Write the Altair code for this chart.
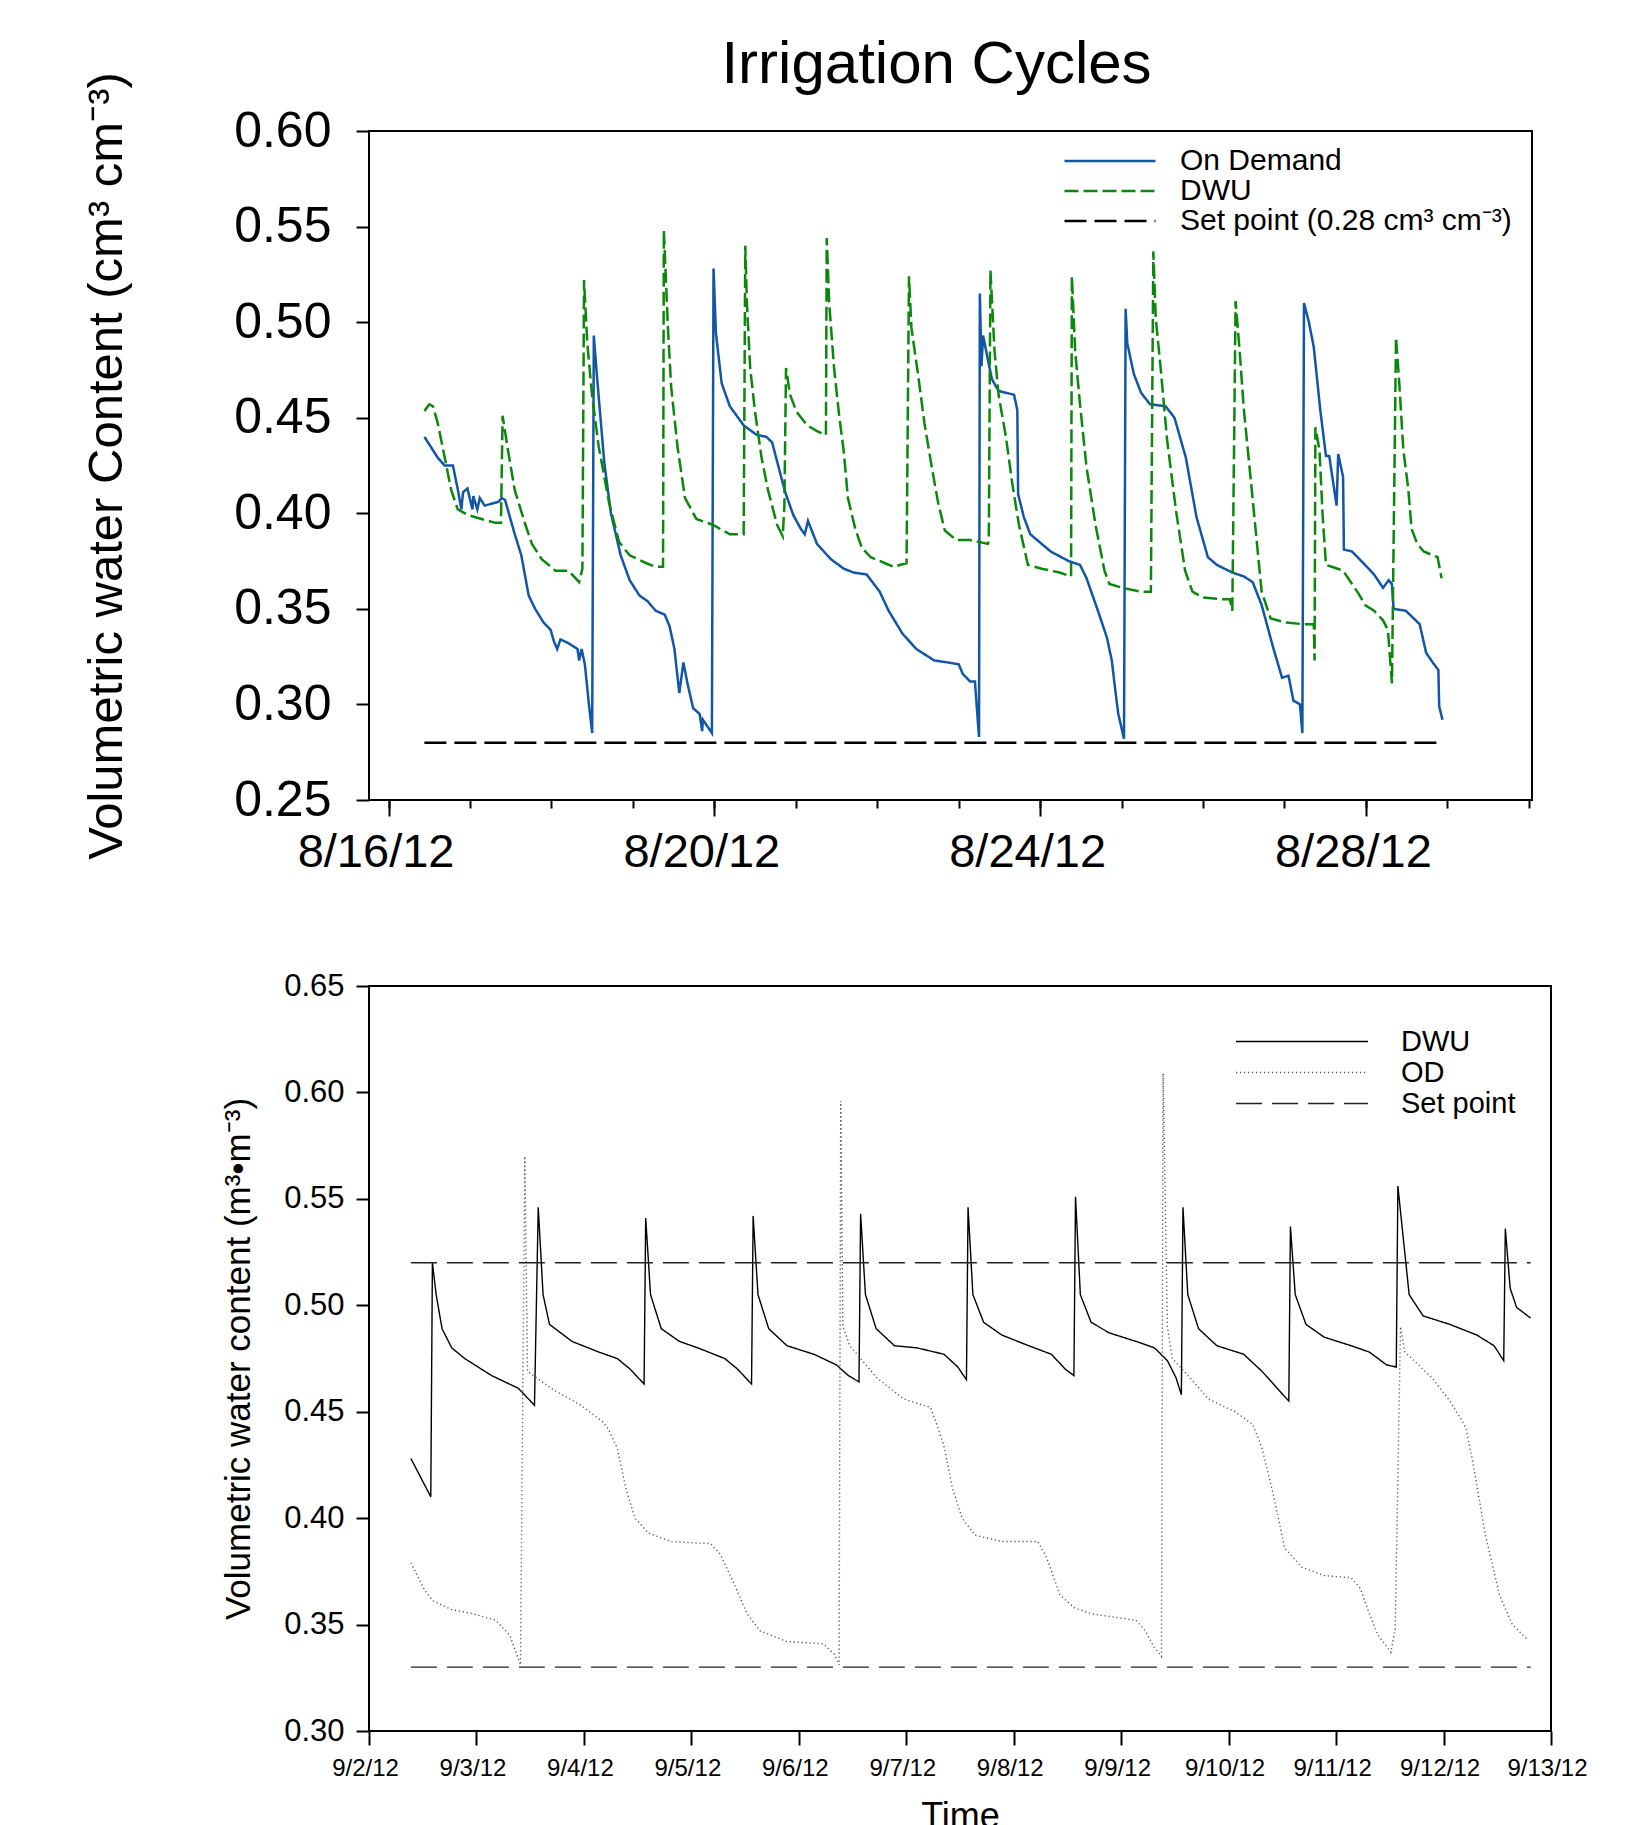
import altair as alt
import pandas as pd

FONT = "Liberation Sans"

# ---------------- top panel (days after 8/16/12 00:00) ----------------
top_od_days = [0.44, 0.605, 0.688, 0.79, 0.85, 0.894, 0.914, 0.968, 1.03, 1.04, 1.09, 1.12, 1.18, 1.35, 1.39,
               1.43, 1.55, 1.63, 1.72, 1.80, 1.90, 1.99, 2.03, 2.07, 2.11, 2.21, 2.32, 2.34, 2.37, 2.41, 2.46,
               2.50, 2.52, 2.56, 2.65, 2.73, 2.85, 2.96, 3.08, 3.18, 3.28, 3.39, 3.45, 3.51, 3.57, 3.62, 3.67,
               3.74, 3.82, 3.85, 3.86, 3.97, 3.99, 4.02, 4.09, 4.19, 4.36, 4.52, 4.64, 4.71, 4.87, 4.97, 5.06,
               5.11, 5.15, 5.26, 5.43, 5.59, 5.71, 5.87, 6.03, 6.14, 6.31, 6.48, 6.70, 6.86, 7.00, 7.05, 7.14,
               7.20, 7.22, 7.25, 7.26, 7.28, 7.30, 7.36, 7.41, 7.49, 7.68, 7.72, 7.73, 7.80, 7.88, 8.13, 8.35,
               8.49, 8.57, 8.71, 8.82, 8.88, 8.93, 8.96, 9.03, 9.05, 9.07, 9.15, 9.24, 9.35, 9.54, 9.65, 9.79,
               9.92, 10.06, 10.17, 10.36, 10.50, 10.61, 10.72, 10.86, 10.97, 11.05, 11.11, 11.19, 11.22, 11.24,
               11.30, 11.36, 11.44, 11.51, 11.55, 11.64, 11.66, 11.72, 11.73, 11.83, 11.99, 12.10, 12.21, 12.28,
               12.32, 12.34, 12.49, 12.66, 12.74, 12.82, 12.89, 12.90, 12.94]
top_od_vals = [0.440, 0.429, 0.425, 0.425, 0.4125, 0.402, 0.411, 0.413, 0.402, 0.409, 0.402, 0.408, 0.404, 0.406,
               0.408, 0.407, 0.389, 0.378, 0.357, 0.350, 0.343, 0.339, 0.333, 0.329, 0.334, 0.332, 0.329, 0.323,
               0.329, 0.321, 0.300, 0.285, 0.493, 0.471, 0.426, 0.400, 0.378, 0.365, 0.357, 0.354, 0.349, 0.347,
               0.341, 0.329, 0.306, 0.322, 0.311, 0.298, 0.295, 0.286, 0.292, 0.285, 0.528, 0.494, 0.468, 0.456,
               0.446, 0.441, 0.440, 0.437, 0.411, 0.399, 0.392, 0.389, 0.396, 0.384, 0.376, 0.371, 0.369, 0.368,
               0.359, 0.349, 0.337, 0.329, 0.323, 0.322, 0.321, 0.316, 0.312, 0.312, 0.300, 0.283, 0.515, 0.477,
               0.493, 0.480, 0.470, 0.464, 0.462, 0.454, 0.410, 0.398, 0.389, 0.380, 0.375, 0.373, 0.366, 0.349,
               0.335, 0.323, 0.305, 0.295, 0.282, 0.507, 0.489, 0.473, 0.463, 0.457, 0.456, 0.450, 0.429, 0.398,
               0.377, 0.373, 0.369, 0.367, 0.364, 0.352, 0.330, 0.314, 0.315, 0.302, 0.300, 0.285, 0.510, 0.500,
               0.487, 0.454, 0.430, 0.430, 0.404, 0.431, 0.419, 0.381, 0.380, 0.373, 0.368, 0.361, 0.365, 0.363,
               0.350, 0.349, 0.342, 0.327, 0.322, 0.318, 0.299, 0.292]

top_dwu_days = [0.44, 0.50, 0.545, 0.605, 0.69, 0.77, 0.85, 0.98, 1.14, 1.31, 1.38, 1.40, 1.47, 1.55, 1.68, 1.76,
                1.88, 2.05, 2.21, 2.34, 2.38, 2.40, 2.44, 2.50, 2.58, 2.71, 2.83, 2.96, 3.16, 3.28, 3.37, 3.38,
                3.43, 3.47, 3.55, 3.64, 3.78, 3.98, 4.19, 4.36, 4.38, 4.40, 4.44, 4.50, 4.58, 4.66, 4.77, 4.84,
                4.86, 4.88, 4.93, 5.01, 5.14, 5.26, 5.37, 5.38, 5.41, 5.47, 5.53, 5.59, 5.64, 5.73, 5.81, 5.92,
                6.09, 6.20, 6.36, 6.39, 6.42, 6.50, 6.58, 6.67, 6.75, 6.83, 6.97, 7.14, 7.36, 7.37, 7.39, 7.44,
                7.49, 7.58, 7.66, 7.74, 7.85, 8.02, 8.24, 8.38, 8.39, 8.43, 8.49, 8.57, 8.68, 8.79, 8.85, 9.01,
                9.23, 9.36, 9.39, 9.42, 9.48, 9.56, 9.67, 9.78, 9.87, 10.00, 10.23, 10.33, 10.36, 10.40, 10.45,
                10.50, 10.56, 10.64, 10.72, 10.83, 11.00, 11.22, 11.36, 11.37, 11.38, 11.43, 11.47, 11.51, 11.58,
                11.72, 11.83, 11.91, 11.99, 12.10, 12.21, 12.27, 12.32, 12.37, 12.41, 12.46, 12.52, 12.56, 12.63,
                12.71, 12.88, 12.93]
top_dwu_vals = [0.4535, 0.457, 0.456, 0.447, 0.429, 0.412, 0.402, 0.399, 0.397, 0.395, 0.395, 0.451, 0.432, 0.412,
                0.394, 0.384, 0.376, 0.370, 0.370, 0.364, 0.371, 0.522, 0.489, 0.461, 0.435, 0.405, 0.385, 0.378,
                0.374, 0.372, 0.372, 0.548, 0.497, 0.466, 0.434, 0.408, 0.397, 0.394, 0.389, 0.389, 0.540, 0.510,
                0.476, 0.453, 0.429, 0.412, 0.394, 0.388, 0.404, 0.476, 0.462, 0.453, 0.446, 0.443, 0.441, 0.544,
                0.510, 0.476, 0.452, 0.432, 0.408, 0.392, 0.382, 0.377, 0.374, 0.372, 0.374, 0.524, 0.497, 0.473,
                0.447, 0.424, 0.405, 0.391, 0.386, 0.386, 0.384, 0.386, 0.527, 0.485, 0.462, 0.440, 0.415, 0.394,
                0.373, 0.371, 0.369, 0.367, 0.524, 0.485, 0.457, 0.424, 0.394, 0.370, 0.363, 0.361, 0.359, 0.359,
                0.537, 0.502, 0.476, 0.438, 0.401, 0.370, 0.359, 0.356, 0.355, 0.355, 0.349, 0.511, 0.485, 0.455,
                0.429, 0.394, 0.359, 0.345, 0.343, 0.342, 0.342, 0.323, 0.445, 0.433, 0.398, 0.373, 0.372, 0.370,
                0.363, 0.358, 0.352, 0.349, 0.344, 0.339, 0.311, 0.492, 0.468, 0.433, 0.413, 0.392, 0.384, 0.380,
                0.377, 0.366]

top_set_days = [0.44, 12.95]
top_set_vals = [0.28, 0.28]

top_series = ["On Demand", "DWU", "Set point (0.28 cm³ cm⁻³)"]
top_colors = ["#1256a6", "#0b870b", "#000000"]
top_dashes = [[1, 0], [14, 5], [22, 8]]
top_x_domain_days = [-0.24, 14.04]
top_major_days = [0, 4, 8, 12]
top_minor_days = list(range(0, 15))
top_y_ticks = [0.25, 0.30, 0.35, 0.40, 0.45, 0.50, 0.55, 0.60]

# ---------------- bottom panel (days after 9/2/12 00:00) ----------------
bot_dwu_days = [0.39, 0.575, 0.59, 0.625, 0.68, 0.77, 0.89, 1.14, 1.39, 1.54, 1.575, 1.62, 1.68, 1.89, 2.14, 2.31,
                2.43, 2.56, 2.575, 2.62, 2.72, 2.89, 3.06, 3.31, 3.43, 3.56, 3.575, 3.62, 3.72, 3.89, 4.14, 4.35,
                4.46, 4.56, 4.575, 4.62, 4.72, 4.89, 5.10, 5.35, 5.48, 5.56, 5.575, 5.62, 5.72, 5.89, 6.14, 6.35,
                6.48, 6.56, 6.575, 6.62, 6.72, 6.89, 7.14, 7.31, 7.43, 7.51, 7.56, 7.575, 7.62, 7.72, 7.89, 8.14,
                8.31, 8.47, 8.56, 8.575, 8.62, 8.72, 8.89, 9.14, 9.31, 9.47, 9.56, 9.575, 9.68, 9.81, 10.06, 10.31,
                10.47, 10.56, 10.575, 10.62, 10.68, 10.81]
bot_dwu_vals = [0.428, 0.410, 0.520, 0.505, 0.489, 0.480, 0.475, 0.467, 0.461, 0.453, 0.546, 0.505, 0.491, 0.483,
                0.478, 0.475, 0.470, 0.463, 0.541, 0.505, 0.489, 0.483, 0.480, 0.475, 0.470, 0.463, 0.542, 0.505,
                0.489, 0.481, 0.477, 0.472, 0.467, 0.464, 0.543, 0.505, 0.489, 0.481, 0.480, 0.477, 0.471, 0.465,
                0.546, 0.505, 0.492, 0.486, 0.481, 0.477, 0.470, 0.467, 0.551, 0.505, 0.492, 0.487, 0.483, 0.480,
                0.474, 0.466, 0.458, 0.546, 0.505, 0.489, 0.481, 0.477, 0.469, 0.460, 0.455, 0.537, 0.505, 0.491,
                0.485, 0.481, 0.478, 0.472, 0.471, 0.556, 0.505, 0.495, 0.491, 0.486, 0.481, 0.474, 0.536, 0.508,
                0.499, 0.494]

bot_od_days = [0.39, 0.52, 0.60, 0.77, 0.975, 1.18, 1.31, 1.41, 1.45, 1.475, 1.725, 1.975, 2.18, 2.225, 2.31, 2.39,
               2.475, 2.60, 2.81, 3.18, 3.27, 3.39, 3.52, 3.64, 3.89, 4.23, 4.33, 4.375, 4.39, 4.41, 4.475, 4.725,
               4.975, 5.225, 5.27, 5.35, 5.43, 5.52, 5.64, 5.89, 6.225, 6.31, 6.43, 6.56, 6.725, 7.14, 7.225, 7.31,
               7.375, 7.39, 7.43, 7.475, 7.64, 7.81, 8.06, 8.225, 8.31, 8.43, 8.52, 8.68, 8.89, 9.14, 9.225, 9.31,
               9.39, 9.51, 9.55, 9.60, 9.64, 9.89, 10.06, 10.18, 10.21, 10.27, 10.39, 10.52, 10.64, 10.78]
bot_od_vals = [0.379, 0.366, 0.361, 0.357, 0.355, 0.352, 0.345, 0.331, 0.570, 0.469, 0.460, 0.453, 0.445, 0.442,
               0.433, 0.414, 0.400, 0.393, 0.389, 0.388, 0.383, 0.370, 0.355, 0.347, 0.342, 0.341, 0.336, 0.331,
               0.596, 0.490, 0.481, 0.466, 0.456, 0.452, 0.446, 0.434, 0.414, 0.400, 0.392, 0.389, 0.389, 0.381,
               0.364, 0.358, 0.355, 0.352, 0.347, 0.339, 0.335, 0.609, 0.490, 0.475, 0.466, 0.456, 0.450, 0.444,
               0.433, 0.408, 0.386, 0.377, 0.373, 0.372, 0.367, 0.355, 0.345, 0.337, 0.348, 0.490, 0.478, 0.466,
               0.455, 0.445, 0.442, 0.427, 0.392, 0.364, 0.350, 0.343]

bot_set_days = [0.39, 10.81]
bot_set_high = [0.52, 0.52]
bot_set_low = [0.33, 0.33]

bot_series = ["DWU", "OD", "Set point"]
bot_colors = ["#000000", "#555555", "#222222"]
bot_dashes = [[1, 0], [1.2, 2.8], [26, 10]]
bot_x_domain_days = [0, 11]
bot_tick_days = list(range(0, 12))
bot_y_ticks = [0.30, 0.35, 0.40, 0.45, 0.50, 0.55, 0.60, 0.65]

TOP_BASE = pd.Timestamp("2012-08-16")
BOT_BASE = pd.Timestamp("2012-09-02")


def frame(series, days, vals, base, seg):
    return pd.DataFrame({
        "time": base + pd.to_timedelta(days, unit="D"),
        "value": vals,
        "series": series,
        "seg": seg,
    })


def dt(base, d):
    t = base + pd.Timedelta(days=d)
    return alt.DateTime(year=t.year, month=t.month, date=t.day, hours=t.hour, minutes=t.minute)


top_df = pd.concat([
    frame(top_series[0], top_od_days, top_od_vals, TOP_BASE, "a"),
    frame(top_series[1], top_dwu_days, top_dwu_vals, TOP_BASE, "b"),
    frame(top_series[2], top_set_days, top_set_vals, TOP_BASE, "c"),
])
top_set_df = frame(top_series[2], top_set_days, top_set_vals, TOP_BASE, "c")

bot_df = pd.concat([
    frame(bot_series[0], bot_dwu_days, bot_dwu_vals, BOT_BASE, "a"),
    frame(bot_series[1], bot_od_days, bot_od_vals, BOT_BASE, "b"),
    frame(bot_series[2], bot_set_days, bot_set_high, BOT_BASE, "c"),
    frame(bot_series[2], bot_set_days, bot_set_low, BOT_BASE, "d"),
])

TW, TH = 1163, 669
BW, BH = 1182, 745

top_x_scale = alt.Scale(domain=[dt(TOP_BASE, d) for d in top_x_domain_days])
top_legend = alt.Legend(
    title=None, orient="none", legendX=694, legendY=15, symbolType="stroke",
    symbolSize=8281, symbolStrokeWidth=2.5, labelFontSize=30, labelFont=FONT,
    labelColor="black", labelOffset=23, rowPadding=0, clipHeight=30, padding=0, labelLimit=0,
)

top_lines = alt.Chart(top_df).mark_line(strokeWidth=2.5, clip=True).encode(
    x=alt.X("time:T", scale=top_x_scale,
            axis=alt.Axis(values=[dt(TOP_BASE, d) for d in top_major_days], format="%-m/%-d/%y",
                          tickSize=16, tickWidth=2, labelPadding=13, labelFontSize=47,
                          labelOffset=-13, title=None, orient="bottom", domain=False, grid=False,
                          labelOverlap=False)),
    y=alt.Y("value:Q", scale=alt.Scale(domain=[0.25, 0.60]),
            axis=alt.Axis(values=top_y_ticks, format=".2f", tickSize=13, tickWidth=2,
                          labelPadding=25, labelFontSize=50, domain=False, grid=False,
                          title="Volumetric water Content (cm³ cm⁻³)", titleFontSize=49,
                          titleFontWeight="normal", titleX=-263, titleY=TH / 2,
                          titleAlign="center", titleBaseline="middle", titleAngle=270)),
    color=alt.Color("series:N", scale=alt.Scale(domain=top_series, range=top_colors), legend=top_legend),
    strokeDash=alt.StrokeDash("series:N", scale=alt.Scale(domain=top_series, range=top_dashes),
                              legend=top_legend),
    detail="seg:N",
)

top_minor = alt.Chart(top_set_df).mark_line(opacity=0).encode(
    x=alt.X("time:T", scale=top_x_scale,
            axis=alt.Axis(values=[dt(TOP_BASE, d) for d in top_minor_days], labels=False,
                          tickSize=8, tickWidth=2, title=None, orient="bottom", domain=False, grid=False)),
    y=alt.value(0),
)

top = alt.layer(top_lines, top_minor).resolve_axis(x="independent").properties(
    width=TW, height=TH,
    title=alt.TitleParams("Irrigation Cycles", fontSize=60, font=FONT, fontWeight="normal",
                          anchor="middle", dx=-14, offset=-71, baseline="alphabetic", color="black"),
)

bot_legend = alt.Legend(
    title=None, orient="none", legendX=866, legendY=40, symbolType="stroke",
    symbolSize=17424, symbolStrokeWidth=1.5, labelFontSize=29, labelFont=FONT,
    labelColor="black", labelOffset=32, rowPadding=0, clipHeight=31, padding=0, labelLimit=0,
)

bottom = alt.Chart(bot_df).mark_line(strokeWidth=1.4, clip=True).encode(
    x=alt.X("time:T", scale=alt.Scale(domain=[dt(BOT_BASE, d) for d in bot_x_domain_days]),
            axis=alt.Axis(values=[dt(BOT_BASE, d) for d in bot_tick_days], format="%-m/%-d/%y",
                          tickSize=14, tickWidth=2, labelPadding=11, labelFontSize=24, labelOffset=-4,
                          labelOverlap=False, labelBound=False, labelFlush=False,
                          domain=False, grid=False, title="Time", titleFontSize=36,
                          titleFontWeight="normal", titleX=BW / 2, titleY=68, titleBaseline="top")),
    y=alt.Y("value:Q", scale=alt.Scale(domain=[0.30, 0.65]),
            axis=alt.Axis(values=bot_y_ticks, format=".2f", tickSize=13, tickWidth=2,
                          labelPadding=12, labelFontSize=31, domain=False, grid=False,
                          title="Volumetric water content (m³•m⁻³)", titleFontSize=35,
                          titleFontWeight="normal", titleX=-131, titleY=BH / 2,
                          titleAlign="center", titleBaseline="middle", titleAngle=270)),
    color=alt.Color("series:N", scale=alt.Scale(domain=bot_series, range=bot_colors), legend=bot_legend),
    strokeDash=alt.StrokeDash("series:N", scale=alt.Scale(domain=bot_series, range=bot_dashes),
                              legend=bot_legend),
    detail="seg:N",
).properties(width=BW, height=BH)

chart = alt.vconcat(top, bottom, spacing=186, bounds="flush").resolve_scale(
    color="independent", strokeDash="independent",
).resolve_legend(
    color="independent", strokeDash="independent",
).properties(
    padding={"left": 73, "top": 25, "right": 20, "bottom": 10},
    background="white",
).configure_view(
    stroke="black", strokeWidth=2,
).configure_axis(
    labelFont=FONT, titleFont=FONT, labelColor="black", titleColor="black", tickColor="black",
).configure_legend(
    labelFont=FONT,
)

chart.save("out.html", embed_options={"renderer": "svg", "actions": False})
